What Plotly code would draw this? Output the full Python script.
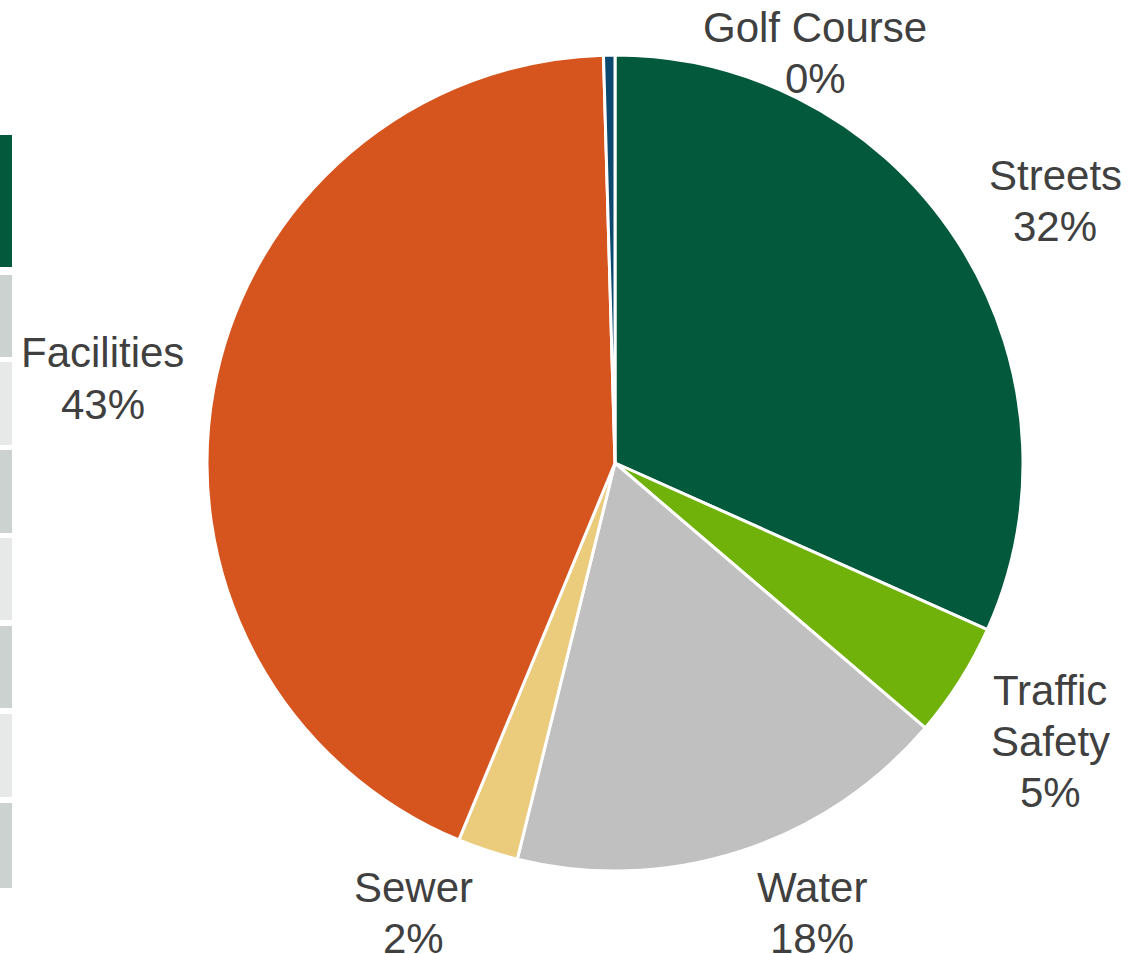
import plotly.graph_objects as go

W, H = 1145, 954

categories = ["Streets", "Traffic Safety", "Water", "Sewer", "Facilities", "Golf Course"]
display_lines = [["Streets"], ["Traffic", "Safety"], ["Water"], ["Sewer"], ["Facilities"], ["Golf Course"]]
values = [31.7, 4.55, 17.6, 2.4, 43.3, 0.45]
colors = ["#03593c", "#70b10a", "#c0c0c0", "#ebcb7c", "#d6541e", "#0b4a6e"]

# label position: centre x and centre y of first line (pixels from top-left)
label_pos = [(1055, 175), (1050, 690), (812, 887), (413, 887), (103, 353), (815, 28)]
line_step = 51

# cropped table at the left edge: (top, bottom, color)
table_rows = [(135, 267, "#03593c"), (275, 357, "#cbd2cf"), (362, 445, "#e7e9e8"),
              (450, 533, "#cbd2cf"), (538, 620, "#e7e9e8"), (626, 708, "#cbd2cf"),
              (714, 797, "#e7e9e8"), (803, 888, "#cbd2cf")]

cx, cy, r = 615, 463, 408

fig = go.Figure(go.Pie(
    labels=categories,
    values=values,
    sort=False,
    direction="clockwise",
    rotation=0,
    marker=dict(colors=colors, line=dict(color="white", width=3)),
    textinfo="none",
    hoverinfo="label+percent",
    domain=dict(x=[(cx - r) / W, (cx + r) / W], y=[(H - cy - r) / H, (H - cy + r) / H]),
    showlegend=False,
))

total = sum(values)
annotations = []
for lines, v, (px, py) in zip(display_lines, values, label_pos):
    pct = round(v / total * 100)
    all_lines = lines + [f"{pct}%"]
    for i, t in enumerate(all_lines):
        annotations.append(dict(
            x=px / W, y=1 - (py + i * line_step) / H, xref="paper", yref="paper",
            text=t, showarrow=False,
            xanchor="center", yanchor="middle", align="center",
            font=dict(family="Liberation Sans, Arial, sans-serif", size=42, color="#404040"),
        ))

shapes = []
for top, bot, col in table_rows:
    shapes.append(dict(type="rect", xref="paper", yref="paper",
                       x0=0, x1=12 / W, y0=1 - bot / H, y1=1 - top / H,
                       fillcolor=col, line=dict(width=0), layer="below"))

fig.update_layout(
    width=W, height=H,
    margin=dict(l=0, r=0, t=0, b=0),
    paper_bgcolor="white", plot_bgcolor="white",
    annotations=annotations, shapes=shapes,
)

fig.write_html("out.html")
